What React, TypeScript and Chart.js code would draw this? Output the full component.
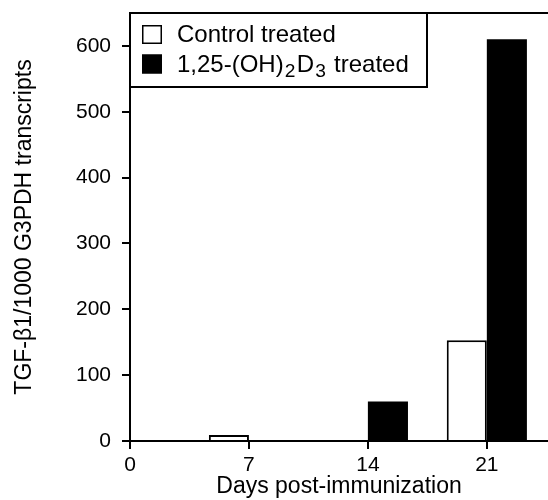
import React, { useEffect, useRef } from "react";
import { Chart, registerables } from "chart.js";

Chart.register(...registerables);

// ---- data ----
const days = [7, 14, 21];
const controlValues = [9, 0, 153];
const vitDValues = [0, 60, 610];
const xTicks = [0, 7, 14, 21];
const yTicks = [0, 100, 200, 300, 400, 500, 600];
const seriesLabels = ["Control treated", "1,25-(OH)₂D₃ treated"];
const xTitle = "Days post-immunization";
const yTitle = "TGF-β1/1000 G3PDH transcripts";

const FONT = '"Liberation Sans", Arial, Helvetica, sans-serif';
const SUB = "₀₁₂₃₄₅₆₇₈₉";

function drawRich(ctx: CanvasRenderingContext2D, text: string, x: number, y: number, size: number) {
  const runs: { sub: boolean; s: string }[] = [];
  for (const ch of text) {
    const si = SUB.indexOf(ch);
    const sub = si >= 0;
    const c = sub ? String(si) : ch;
    if (runs.length && runs[runs.length - 1].sub === sub) runs[runs.length - 1].s += c;
    else runs.push({ sub, s: c });
  }
  let cx = x;
  ctx.textAlign = "left";
  ctx.textBaseline = "alphabetic";
  for (const r of runs) {
    const fs = r.sub ? size * 0.8 : size;
    ctx.font = `${fs}px ${FONT}`;
    if (r.sub) cx += 1;
    ctx.fillText(r.s, cx, r.sub ? y + size * 0.22 : y);
    cx += ctx.measureText(r.s).width + (r.sub ? 1.5 : 0);
  }
}

const boxedLegend = {
  id: "boxedLegend",
  afterDraw(chart: any) {
    const { ctx, chartArea } = chart;
    const left = chartArea.left;
    const top = chartArea.top;
    const w = 297;
    const h = 74;
    ctx.save();
    ctx.fillStyle = "#fff";
    ctx.fillRect(left, top, w, h);
    ctx.strokeStyle = "#000";
    ctx.lineWidth = 2;
    ctx.strokeRect(left, top, w, h);
    chart.data.datasets.forEach((ds: any, i: number) => {
      const sy = top + 12 + i * 29.5;
      ctx.fillStyle = ds.backgroundColor;
      ctx.fillRect(left + 12, sy, 20, 19);
      ctx.strokeStyle = "#000";
      ctx.lineWidth = 1.5;
      ctx.strokeRect(left + 12.75, sy + 0.75, 18.5, 17.5);
      ctx.fillStyle = "#000";
      drawRich(ctx, ds.label, left + 47, sy + 17, 24);
    });
    ctx.restore();
  },
};

export default function App() {
  const ref = useRef<HTMLCanvasElement | null>(null);

  useEffect(() => {
    if (!ref.current) return;
    const chart = new Chart(ref.current, {
      type: "bar",
      data: {
        datasets: [
          {
            label: seriesLabels[0],
            data: days.map((d, i) => ({ x: d, y: controlValues[i] })),
            backgroundColor: "#ffffff",
            borderColor: "#000000",
            borderWidth: 2,
            xAxisID: "x",
            yAxisID: "y",
          },
          {
            label: seriesLabels[1],
            data: days.map((d, i) => ({ x: d, y: vitDValues[i] })),
            backgroundColor: "#000000",
            borderColor: "#000000",
            borderWidth: 0,
            xAxisID: "x",
            yAxisID: "y",
          },
        ] as any,
      },
      options: {
        animation: false,
        responsive: false,
        maintainAspectRatio: false,
        devicePixelRatio: 1,
        categoryPercentage: 0.674,
        barPercentage: 1,
        layout: { padding: { left: 0, right: 0, top: 13, bottom: 0 } },
        plugins: { legend: { display: false }, tooltip: { enabled: false } },
        scales: {
          x: {
            type: "linear",
            position: "bottom",
            min: 0,
            max: 24.6,
            offset: false,
            afterBuildTicks: (s: any) => {
              s.ticks = xTicks.map((v) => ({ value: v }));
            },
            afterFit: (s: any) => {
              s.height = 59;
              s.paddingLeft = 0;
              s.paddingRight = 0;
            },
            grid: {
              display: true,
              drawOnChartArea: false,
              drawTicks: true,
              tickLength: 8,
              color: "#000",
              lineWidth: 2,
              offset: false,
            },
            border: { display: true, color: "#000", width: 2 },
            ticks: {
              color: "#000",
              font: { family: FONT, size: 21 },
              padding: 4,
              maxRotation: 0,
              autoSkip: false,
            },
            title: {
              display: true,
              text: xTitle,
              color: "#000",
              font: { family: FONT, size: 23 },
              padding: 0,
            },
          },
          xTop: {
            type: "linear",
            position: "top",
            min: 0,
            max: 24.6,
            offset: false,
            afterFit: (s: any) => {
              s.height = 0;
              s.paddingLeft = 0;
              s.paddingRight = 0;
            },
            grid: { display: false, drawTicks: false },
            ticks: { display: false },
            border: { display: true, color: "#000", width: 2 },
          },
          y: {
            type: "linear",
            min: 0,
            max: 650,
            afterBuildTicks: (s: any) => {
              s.ticks = yTicks.map((v) => ({ value: v }));
            },
            afterFit: (s: any) => {
              s.width = 130;
              s.paddingTop = 0;
              s.paddingBottom = 0;
            },
            grid: {
              display: true,
              drawOnChartArea: false,
              drawTicks: true,
              tickLength: 8,
              color: "#000",
              lineWidth: 2,
            },
            border: { display: true, color: "#000", width: 2 },
            ticks: {
              color: "#000",
              font: { family: FONT, size: 21 },
              padding: 11,
            },
            title: {
              display: true,
              text: yTitle,
              color: "#000",
              font: { family: FONT, size: 23 },
              padding: { top: 11, bottom: 0 },
            },
          },
        },
      } as any,
      plugins: [boxedLegend],
    });
    return () => chart.destroy();
  }, []);

  return (
    <div style={{ position: "absolute", left: 0, top: 0, width: 548, height: 500, background: "#fff" }}>
      <canvas ref={ref} width={548} height={500} style={{ display: "block" }} />
    </div>
  );
}
